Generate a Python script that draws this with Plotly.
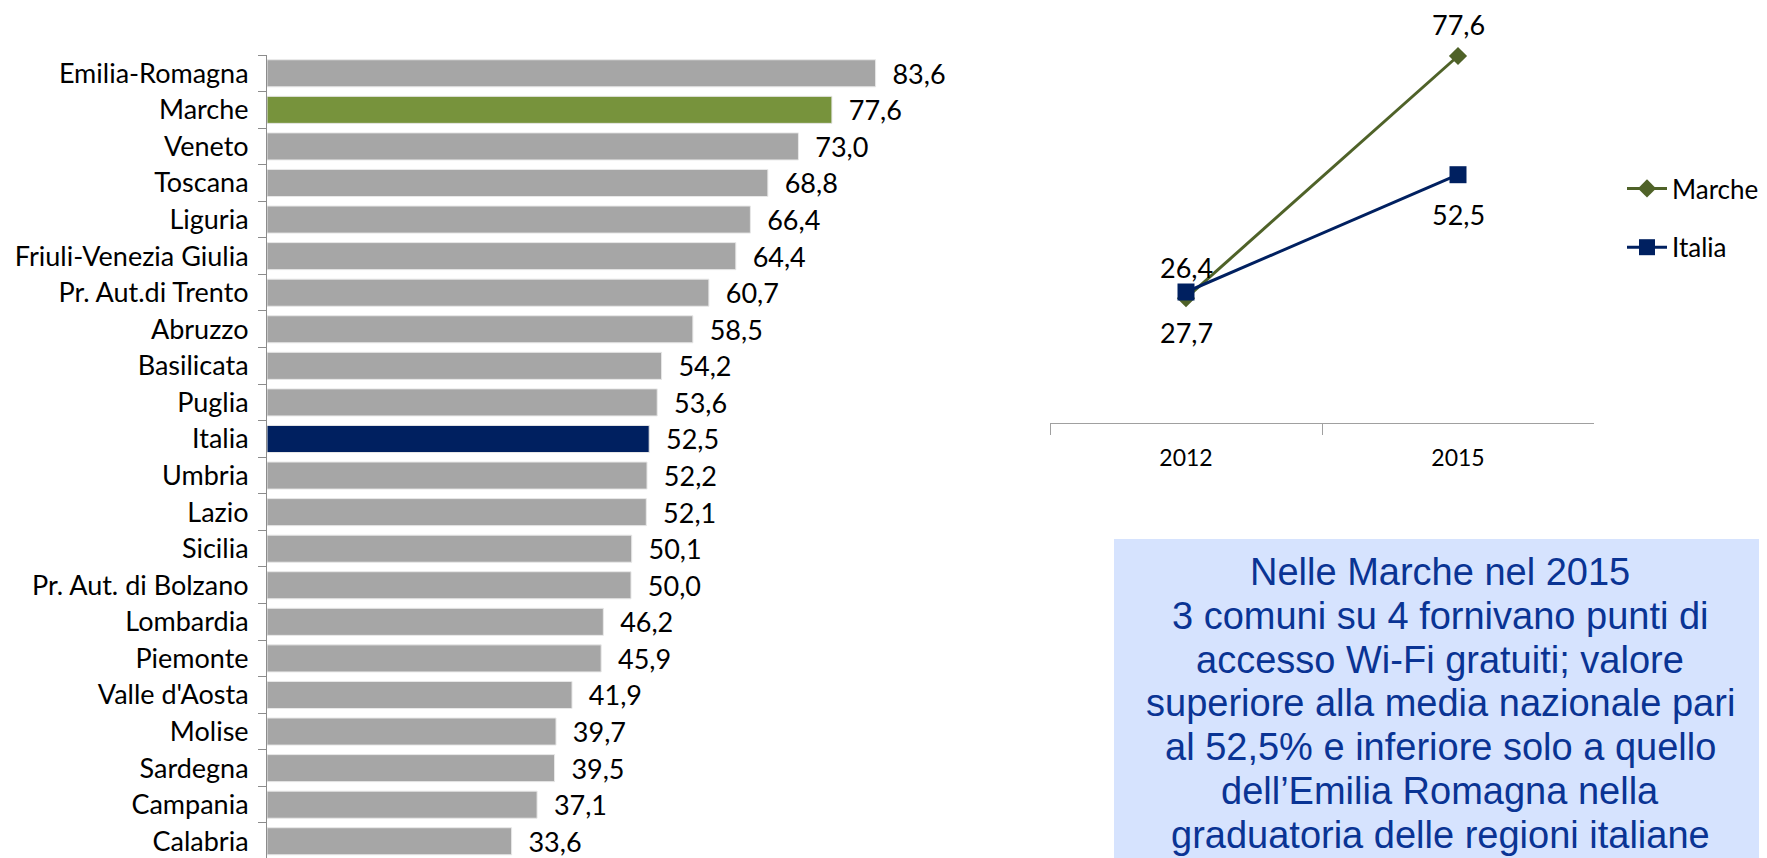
import plotly.graph_objects as go

# bar chart data (2015, % of comuni offering free Wi-Fi)
regions = [
    "Emilia-Romagna", "Marche", "Veneto", "Toscana", "Liguria",
    "Friuli-Venezia Giulia", "Pr. Aut.di Trento", "Abruzzo", "Basilicata",
    "Puglia", "Italia", "Umbria", "Lazio", "Sicilia", "Pr. Aut. di Bolzano",
    "Lombardia", "Piemonte", "Valle d'Aosta", "Molise", "Sardegna",
    "Campania", "Calabria",
]
values = [
    83.6, 77.6, 73.0, 68.8, 66.4, 64.4, 60.7, 58.5, 54.2, 53.6, 52.5,
    52.2, 52.1, 50.1, 50.0, 46.2, 45.9, 41.9, 39.7, 39.5, 37.1, 33.6,
]

# line chart data
years = ["2012", "2015"]
marche = [26.4, 77.6]
italia = [27.7, 52.5]

box_text = [
    "Nelle Marche nel 2015",
    "3 comuni su 4 fornivano punti di",
    "accesso Wi-Fi gratuiti; valore",
    "superiore alla media nazionale pari",
    "al 52,5% e inferiore solo a quello",
    "dell’Emilia Romagna nella",
    "graduatoria delle regioni italiane",
]

GRAY = "#A6A6A6"
GREEN = "#77933C"
NAVY = "#002060"
OLIVE = "#4F6228"
FONT = "Lato"

# the page body has an 8px margin: shift everything by it and let the
# figure run to the window edges
OFF = 8
W, H = 1767 - OFF, 858 - OFF


def px(x):
    return (x - OFF) / W


def py(y):
    return 1 - (y - OFF) / H


bar_colors = []
for r in regions:
    if r == "Marche":
        bar_colors.append(GREEN)
    elif r == "Italia":
        bar_colors.append(NAVY)
    else:
        bar_colors.append(GRAY)

# bar plot area runs from y=55 to the bottom of the window; band is ~36.6px
band = 36.57
bar_bottom = (858 - 55) / band - 0.5

fig = go.Figure()

fig.add_trace(
    go.Bar(
        x=values,
        y=regions,
        orientation="h",
        marker=dict(color=bar_colors, line=dict(color="#E8E8E8", width=1)),
        texttemplate="\u00a0\u00a0%{x:.1f}",
        textposition="outside",
        constraintext="none",
        textfont=dict(family=FONT, size=27, color="black"),
        cliponaxis=False,
        showlegend=False,
        xaxis="x",
        yaxis="y",
    )
)

fig.add_trace(
    go.Scatter(
        x=[0, 1],
        y=marche,
        name="Marche",
        mode="lines+markers",
        line=dict(color=OLIVE, width=3),
        marker=dict(symbol="diamond", size=14, color=OLIVE),
        legendgroup="m",
        cliponaxis=False,
        xaxis="x2",
        yaxis="y2",
    )
)
fig.add_trace(
    go.Scatter(
        x=[0, 1],
        y=italia,
        name="Italia",
        mode="lines+markers",
        line=dict(color=NAVY, width=3),
        marker=dict(symbol="square", size=17, color=NAVY),
        legendgroup="i",
        cliponaxis=False,
        xaxis="x2",
        yaxis="y2",
    )
)

# data labels for the line chart: Marche above, Italia below
for i, v in enumerate(marche):
    fig.add_annotation(
        x=i, y=v, xref="x2", yref="y2", text=f"{v:.1f}".replace(".", ","),
        showarrow=False, yshift=31, font=dict(family=FONT, size=27, color="black"),
    )
for i, v in enumerate(italia):
    fig.add_annotation(
        x=i, y=v, xref="x2", yref="y2", text=f"{v:.1f}".replace(".", ","),
        showarrow=False, yshift=-40, font=dict(family=FONT, size=27, color="black"),
    )

# text box
fig.add_shape(
    type="rect", xref="paper", yref="paper",
    x0=px(1114), x1=1.0, y0=0, y1=py(539),
    fillcolor="#D6E3FE", line=dict(width=0), layer="below",
)
for i, line in enumerate(box_text):
    fig.add_annotation(
        xref="paper", yref="paper", x=px(1440), y=py(572 + 43.8 * i),
        xanchor="center", yanchor="middle", align="center", showarrow=False,
        text=line,
        font=dict(family="Liberation Sans, Arial", size=38, color="#0A3494"),
    )

fig.update_layout(
    width=W,
    height=H,
    margin=dict(l=0, r=0, t=0, b=0),
    paper_bgcolor="white",
    plot_bgcolor="white",
    separators=",.",
    font=dict(family=FONT, size=23, color="black"),
    bargap=0.26,
    xaxis=dict(
        domain=[px(267), px(995)], range=[0, 100],
        visible=False,
    ),
    yaxis=dict(
        domain=[0, py(55)],
        type="category",
        range=[bar_bottom, -0.5],
        showline=True, linecolor="#8C8C8C", linewidth=1,
        ticks="outside", tickson="boundaries", ticklen=8, tickcolor="#8C8C8C",
        ticklabelstandoff=12,
        tickfont=dict(family=FONT, size=27, color="black"),
        showgrid=False, zeroline=False,
    ),
    xaxis2=dict(
        domain=[px(1050), px(1594)],
        anchor="y2",
        type="category",
        range=[-0.5, 1.5],
        tickmode="array", tickvals=[0, 1], ticktext=years,
        showline=True, linecolor="#A0A0A0", linewidth=1,
        ticks="outside", tickson="boundaries", ticklen=11, tickcolor="#A0A0A0",
        ticklabelstandoff=14,
        tickfont=dict(family=FONT, size=23, color="black"),
        showgrid=False, zeroline=False,
    ),
    yaxis2=dict(
        domain=[py(423), py(21)],
        anchor="x2",
        range=[0, 85],
        visible=False,
    ),
    legend=dict(
        x=px(1622), y=py(165), xanchor="left", yanchor="top",
        font=dict(family=FONT, size=26, color="black"),
        itemwidth=40,
        tracegroupgap=22,
        bgcolor="rgba(0,0,0,0)",
    ),
)

fig.write_html("out.html")
